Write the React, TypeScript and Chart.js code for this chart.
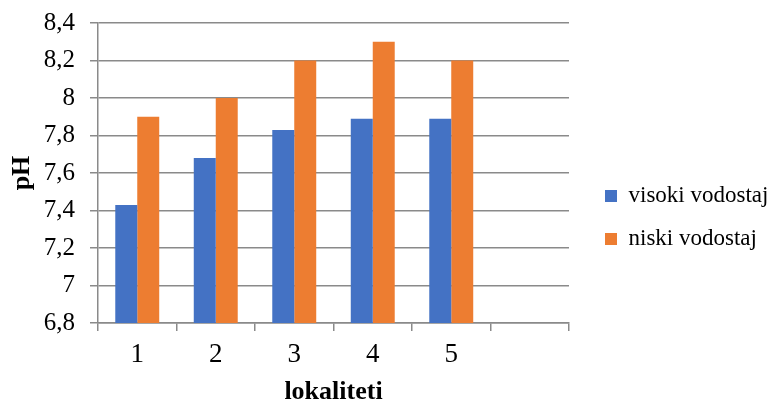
import React, { useEffect, useRef } from 'react';
import { Chart, registerables } from 'chart.js';

Chart.register(...registerables);

const categories = ['1', '2', '3', '4', '5', ''];
const seriesNames = ['visoki vodostaj', 'niski vodostaj'];
const visokiVodostaj = [7.43, 7.68, 7.83, 7.89, 7.89];
const niskiVodostaj = [7.9, 8.0, 8.2, 8.3, 8.2];
const yTickValues = [6.8, 7.0, 7.2, 7.4, 7.6, 7.8, 8.0, 8.2, 8.4];
const yTickLabels = ['6,8', '7', '7,2', '7,4', '7,6', '7,8', '8', '8,2', '8,4'];
const xTitle = 'lokaliteti';
const yTitle = 'pH';

const SERIF = "'Liberation Serif', 'Times New Roman', serif";
const GRID = '#8a8a8a';

const legendWidthPlugin = {
  id: 'legendWidth',
  afterInit(chart: any) {
    const lg = chart.legend;
    if (!lg) return;
    const fit = lg.fit;
    lg.fit = function () {
      fit.call(this);
      this.width = 189;
    };
  },
};

export default function App() {
  const ref = useRef<HTMLCanvasElement>(null);

  useEffect(() => {
    document.body.style.margin = '0';
    const chart = new Chart(ref.current as HTMLCanvasElement, {
      type: 'bar',
      data: {
        labels: categories,
        datasets: [
          {
            label: seriesNames[0],
            data: visokiVodostaj,
            backgroundColor: '#4472C4',
            borderWidth: 0,
            yAxisID: 'y',
          },
          {
            label: seriesNames[1],
            data: niskiVodostaj,
            backgroundColor: '#ED7D31',
            borderWidth: 0,
            yAxisID: 'y',
          },
        ],
      },
      options: {
        responsive: false,
        animation: false,
        layout: { padding: { top: 23, right: 0, bottom: 0, left: 0 } },
        datasets: { bar: { categoryPercentage: 0.56, barPercentage: 1 } },
        plugins: {
          tooltip: { enabled: false },
          legend: {
            position: 'right',
            align: 'center',
            labels: {
              boxWidth: 12,
              boxHeight: 12,
              padding: 20,
              color: '#000',
              font: { family: SERIF, size: 23 },
            },
            title: {
              display: true,
              text: ' ',
              font: { size: 1, lineHeight: 1 },
              padding: { top: 4, bottom: 4 },
            },
          },
        },
        scales: {
          x: {
            grid: {
              display: true,
              drawOnChartArea: false,
              drawTicks: true,
              tickLength: 8,
              color: GRID,
              lineWidth: 1.5,
              offset: true,
            },
            border: { display: true, color: GRID, width: 1.5 },
            ticks: { color: '#000', font: { family: SERIF, size: 27 }, padding: 8 },
            title: {
              display: true,
              text: xTitle,
              color: '#000',
              font: { family: SERIF, size: 26, weight: 'bold', lineHeight: 0.8 },
              padding: 0,
            },
            afterFit: (s: any) => {
              s.height = 80;
            },
          },
          y: {
            min: 6.8,
            max: 8.4,
            afterBuildTicks: (s: any) => {
              s.ticks = yTickValues.map((v) => ({ value: v }));
            },
            grid: { color: GRID, tickLength: 8, lineWidth: 1.5 },
            border: { display: true, color: GRID, width: 1.5 },
            ticks: {
              color: '#000',
              font: { family: SERIF, size: 25 },
              padding: 15,
              callback: (_v: any, i: number) => yTickLabels[i],
            },
            title: {
              display: true,
              text: yTitle,
              color: '#000',
              font: { family: SERIF, size: 26, weight: 'bold' },
              padding: { top: 7, bottom: 0 },
            },
            afterFit: (s: any) => {
              s.width = 98;
              s.paddingTop = 8;
              s.paddingBottom = 8;
            },
          },
          gap: {
            type: 'linear',
            position: 'right',
            display: true,
            grid: { display: false, drawTicks: false },
            border: { display: false },
            ticks: { display: false },
            afterFit: (s: any) => {
              s.width = 16;
              s.paddingTop = 0;
              s.paddingBottom = 0;
            },
          },
        },
      } as any,
      plugins: [legendWidthPlugin],
    });
    return () => chart.destroy();
  }, []);

  return (
    <div style={{ width: 774, height: 403 }}>
      <canvas ref={ref} width={774} height={403} style={{ display: 'block' }} />
    </div>
  );
}
